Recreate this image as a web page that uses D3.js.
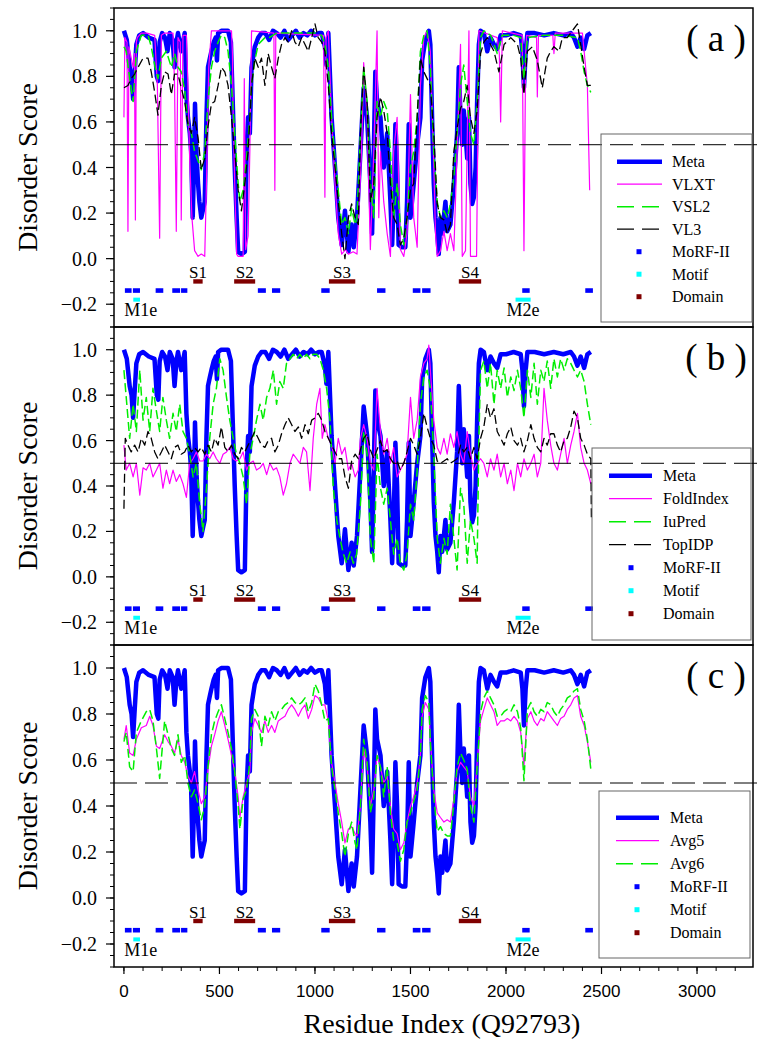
<!DOCTYPE html>
<html><head><meta charset="utf-8">
<script src="https://cdn.jsdelivr.net/npm/d3@7"></script>
<style>body{margin:0;background:#fff}</style>
</head><body><svg id="c" width="762" height="1050"></svg>
<script>
// ---------------- DATA ----------------
const xTicks = [0, 500, 1000, 1500, 2000, 2500, 3000];
const yTicks = [-0.2, 0, 0.2, 0.4, 0.6, 0.8, 1.0];
const threshold = 0.5;

const meta = [[0,1.0],[15,0.96],[30,0.84],[40,0.8],[48,0.7],[55,0.8],[65,0.94],[80,0.98],[100,0.99],[130,0.97],[160,0.96],[172,0.8],[180,0.78],[187,0.95],[200,0.99],[215,0.97],[228,0.91],[240,0.99],[255,0.96],[265,0.84],[275,0.95],[283,0.99],[300,0.91],[318,0.99],[327,0.72],[335,0.62],[345,0.55],[352,0.47],[360,0.18],[366,0.38],[372,0.68],[380,0.45],[388,0.33],[395,0.25],[405,0.18],[415,0.22],[423,0.25],[432,0.62],[440,0.84],[450,0.88],[458,0.91],[470,0.95],[480,0.97],[487,0.87],[493,0.99],[510,1.0],[545,1.0],[560,0.95],[572,0.62],[580,0.4],[590,0.18],[598,0.03],[615,0.02],[633,0.03],[642,0.47],[650,0.62],[659,0.55],[668,0.84],[685,0.93],[703,0.97],[720,0.99],[740,0.99],[760,0.96],[780,1.0],[800,0.99],[820,0.97],[840,1.0],[860,0.96],[880,0.98],[900,1.0],[920,0.97],[940,0.99],[960,0.98],[980,1.0],[1000,0.98],[1020,0.99],[1035,0.99],[1052,0.93],[1060,0.85],[1070,0.99],[1087,0.62],[1105,0.4],[1122,0.18],[1140,0.06],[1157,0.21],[1175,0.03],[1192,0.15],[1203,0.05],[1220,0.18],[1238,0.47],[1255,0.75],[1273,0.62],[1290,0.33],[1299,0.11],[1308,0.47],[1316,0.82],[1325,0.69],[1343,0.62],[1360,0.4],[1378,0.55],[1395,0.25],[1404,0.06],[1412,0.25],[1421,0.59],[1430,0.4],[1438,0.06],[1456,0.05],[1473,0.05],[1482,0.25],[1491,0.59],[1500,0.18],[1517,0.33],[1535,0.5],[1552,0.62],[1561,0.87],[1578,0.96],[1596,1.0],[1604,0.94],[1613,0.62],[1622,0.33],[1631,0.18],[1640,0.11],[1648,0.02],[1657,0.18],[1666,0.11],[1683,0.25],[1692,0.12],[1709,0.15],[1727,0.33],[1744,0.55],[1753,0.84],[1762,0.62],[1771,0.5],[1779,0.65],[1788,0.55],[1797,0.44],[1806,0.62],[1814,0.33],[1823,0.24],[1832,0.27],[1841,0.4],[1849,0.69],[1858,0.94],[1867,1.0],[1884,0.99],[1902,0.91],[1919,0.97],[1937,0.94],[1954,0.92],[1972,0.98],[2000,0.98],[2040,0.99],[2077,0.98],[2086,0.91],[2094,0.75],[2103,0.91],[2112,0.99],[2150,0.99],[2200,0.98],[2250,0.99],[2300,0.98],[2339,0.99],[2356,0.97],[2374,0.93],[2391,0.97],[2409,0.92],[2426,0.98],[2444,0.99]];

const vlxt = [[0,0.62],[5,0.97],[16,0.95],[21,0.12],[26,0.93],[31,0.91],[48,0.84],[55,0.9],[60,0.17],[65,0.95],[70,0.97],[90,0.99],[120,0.99],[161,0.98],[175,0.76],[187,0.09],[196,0.98],[213,0.99],[257,0.99],[265,0.76],[274,0.12],[283,0.97],[295,0.95],[300,0.17],[309,0.98],[327,0.98],[335,0.76],[344,0.44],[356,0.18],[370,0.035],[388,0.01],[405,0.02],[423,0.01],[432,0.33],[444,0.84],[458,1.0],[563,1.0],[568,0.9],[572,0.62],[580,0.33],[590,0.02],[598,0.01],[624,0.01],[630,0.79],[637,0.04],[650,0.1],[659,0.47],[668,1.0],[785,0.99],[790,0.3],[795,0.99],[1045,0.98],[1052,0.27],[1058,0.97],[1070,1.0],[1087,0.62],[1105,0.33],[1122,0.11],[1140,0.02],[1160,0.04],[1175,0.02],[1200,0.03],[1220,0.02],[1245,0.5],[1255,0.86],[1273,0.62],[1290,0.04],[1308,0.47],[1325,1.0],[1334,0.18],[1343,0.47],[1360,0.25],[1378,0.11],[1395,0.01],[1412,0.47],[1430,0.62],[1447,0.04],[1465,0.01],[1482,0.11],[1500,0.72],[1517,0.18],[1535,0.05],[1552,0.76],[1570,0.97],[1587,1.0],[1604,0.91],[1622,0.41],[1631,0.11],[1640,0.01],[1657,0.035],[1675,0.12],[1692,0.035],[1709,0.11],[1727,0.035],[1744,0.47],[1762,0.94],[1771,0.01],[1788,0.035],[1806,1.0],[1814,0.01],[1846,0.01],[1858,1.0],[1954,0.97],[1965,0.9],[1972,0.6],[1981,1.0],[2085,0.98],[2094,0.035],[2103,0.9],[2108,0.98],[2160,0.97],[2164,0.71],[2170,0.98],[2245,0.98],[2251,0.9],[2258,0.99],[2400,0.99],[2409,0.91],[2426,0.76],[2438,0.3]];

const vsl2 = [[0,0.93],[12,0.91],[30,0.79],[48,0.69],[65,0.91],[91,0.98],[126,0.98],[143,0.93],[161,0.85],[178,0.79],[196,0.88],[222,0.91],[248,0.84],[265,0.9],[283,0.84],[300,0.82],[318,0.74],[335,0.59],[353,0.55],[370,0.47],[388,0.43],[405,0.39],[423,0.47],[440,0.69],[458,0.84],[475,0.91],[493,0.95],[510,0.98],[528,0.97],[545,0.91],[563,0.76],[580,0.55],[598,0.33],[607,0.25],[624,0.3],[642,0.44],[659,0.62],[668,0.76],[685,0.87],[703,0.94],[738,0.97],[760,0.97],[800,0.99],[900,0.99],[1000,0.99],[1035,0.98],[1052,0.94],[1070,0.84],[1087,0.62],[1105,0.44],[1122,0.3],[1140,0.15],[1157,0.18],[1175,0.11],[1192,0.22],[1210,0.15],[1220,0.18],[1238,0.55],[1255,0.84],[1273,0.69],[1290,0.33],[1308,0.18],[1325,0.69],[1343,0.62],[1360,0.69],[1378,0.65],[1395,0.47],[1412,0.18],[1430,0.33],[1447,0.15],[1465,0.06],[1482,0.18],[1500,0.4],[1517,0.47],[1535,0.62],[1552,0.91],[1570,0.98],[1587,1.0],[1604,0.84],[1622,0.47],[1640,0.25],[1657,0.18],[1675,0.21],[1692,0.18],[1709,0.24],[1727,0.36],[1744,0.55],[1762,0.76],[1779,0.85],[1797,0.69],[1814,0.55],[1832,0.5],[1849,0.69],[1867,0.97],[1884,1.0],[1920,0.98],[1954,0.9],[1980,0.98],[2040,0.98],[2077,0.97],[2094,0.79],[2112,0.97],[2200,0.98],[2300,0.98],[2374,0.97],[2391,0.91],[2409,0.82],[2426,0.76],[2444,0.73]];

const vl3 = [[0,0.75],[21,0.76],[38,0.79],[56,0.81],[74,0.84],[100,0.88],[126,0.88],[143,0.82],[161,0.73],[178,0.63],[196,0.76],[213,0.82],[231,0.81],[248,0.72],[265,0.81],[283,0.81],[300,0.75],[318,0.69],[335,0.59],[353,0.55],[370,0.62],[388,0.53],[405,0.39],[423,0.44],[440,0.58],[458,0.68],[475,0.69],[493,0.76],[510,0.84],[528,0.82],[545,0.76],[563,0.62],[580,0.47],[598,0.3],[615,0.21],[633,0.33],[650,0.47],[668,0.76],[685,0.88],[703,0.84],[720,0.88],[738,0.76],[755,0.9],[773,0.84],[790,0.79],[808,0.88],[825,0.94],[843,0.97],[860,0.95],[878,1.0],[895,0.95],[913,0.93],[930,0.97],[948,0.94],[965,0.91],[983,0.97],[1000,1.03],[1017,0.97],[1035,0.95],[1052,0.91],[1070,0.76],[1087,0.55],[1105,0.4],[1122,0.25],[1140,0.11],[1157,0.0],[1175,0.18],[1192,0.24],[1210,0.18],[1227,0.15],[1238,0.55],[1255,0.84],[1273,0.68],[1290,0.25],[1308,0.33],[1325,0.62],[1343,0.71],[1360,0.65],[1378,0.55],[1395,0.33],[1412,0.18],[1430,0.15],[1447,0.06],[1465,0.09],[1482,0.18],[1500,0.3],[1517,0.33],[1535,0.62],[1552,0.88],[1570,0.82],[1587,0.79],[1604,0.76],[1622,0.55],[1640,0.24],[1657,0.18],[1675,0.17],[1692,0.11],[1709,0.15],[1727,0.47],[1744,0.57],[1762,0.66],[1779,0.69],[1797,0.76],[1814,0.62],[1832,0.55],[1849,0.65],[1867,0.9],[1884,0.95],[1902,0.97],[1919,0.94],[1937,0.91],[1963,0.82],[1990,0.94],[2025,0.97],[2060,0.94],[2077,0.88],[2094,0.72],[2112,0.91],[2138,0.93],[2164,0.87],[2190,0.75],[2216,0.88],[2234,0.91],[2251,0.93],[2278,0.91],[2295,0.97],[2321,0.97],[2356,1.01],[2374,1.03],[2391,0.94],[2409,0.84],[2426,0.76],[2444,0.76]];

const foldIndex = [[0,0.58],[12,0.47],[30,0.5],[48,0.44],[65,0.5],[83,0.36],[100,0.48],[117,0.47],[135,0.5],[152,0.44],[170,0.47],[187,0.5],[204,0.39],[222,0.47],[239,0.41],[257,0.47],[274,0.42],[292,0.45],[309,0.41],[327,0.35],[344,0.5],[362,0.52],[379,0.55],[397,0.51],[414,0.51],[432,0.54],[449,0.52],[467,0.55],[484,0.52],[502,0.5],[519,0.54],[537,0.55],[554,0.57],[572,0.52],[589,0.51],[607,0.52],[624,0.55],[642,0.47],[659,0.5],[677,0.51],[694,0.47],[712,0.48],[729,0.5],[747,0.45],[764,0.5],[782,0.47],[799,0.48],[816,0.44],[834,0.36],[851,0.41],[869,0.5],[886,0.54],[904,0.52],[921,0.5],[939,0.57],[956,0.55],[974,0.38],[991,0.61],[1009,0.76],[1026,0.83],[1038,0.61],[1052,0.67],[1070,0.61],[1087,0.58],[1105,0.5],[1122,0.61],[1140,0.54],[1157,0.57],[1175,0.47],[1192,0.5],[1210,0.44],[1227,0.47],[1238,0.61],[1255,0.67],[1273,0.61],[1290,0.5],[1308,0.47],[1325,0.83],[1343,0.64],[1360,0.54],[1378,0.61],[1395,0.5],[1412,0.57],[1430,0.44],[1447,0.47],[1465,0.5],[1482,0.54],[1500,0.79],[1517,0.61],[1535,0.69],[1552,0.88],[1570,0.94],[1587,0.96],[1596,1.02],[1604,0.91],[1622,0.69],[1640,0.57],[1657,0.54],[1675,0.61],[1692,0.54],[1709,0.63],[1727,0.57],[1744,0.64],[1762,0.54],[1779,0.5],[1797,0.64],[1814,0.54],[1832,0.47],[1849,0.5],[1867,0.52],[1884,0.5],[1902,0.44],[1919,0.52],[1937,0.47],[1954,0.54],[1972,0.44],[1990,0.5],[2007,0.41],[2025,0.47],[2042,0.38],[2060,0.5],[2077,0.44],[2094,0.52],[2112,0.47],[2130,0.5],[2147,0.54],[2164,0.44],[2182,0.5],[2199,0.83],[2216,0.69],[2234,0.58],[2251,0.5],[2269,0.47],[2286,0.54],[2304,0.61],[2321,0.5],[2339,0.58],[2356,0.64],[2374,0.72],[2391,0.57],[2409,0.5],[2426,0.47],[2444,0.41]];

const iuPred = [[0,0.91],[12,0.79],[30,0.61],[48,0.76],[65,0.64],[83,0.91],[100,0.69],[117,0.79],[135,0.64],[152,0.83],[170,0.73],[187,0.64],[204,0.79],[222,0.69],[239,0.61],[257,0.72],[274,0.64],[292,0.76],[309,0.64],[327,0.61],[344,0.54],[362,0.44],[379,0.5],[397,0.32],[414,0.2],[432,0.39],[449,0.61],[467,0.76],[484,0.83],[502,0.96],[519,0.91],[537,0.79],[554,0.69],[572,0.61],[589,0.54],[607,0.5],[624,0.44],[642,0.32],[659,0.54],[677,0.61],[694,0.69],[712,0.76],[729,0.69],[747,0.79],[764,0.83],[782,0.91],[799,0.76],[816,0.86],[834,0.83],[851,0.94],[869,0.96],[886,0.98],[904,0.96],[921,0.98],[939,0.96],[956,0.98],[974,0.96],[991,0.98],[1009,0.98],[1026,0.96],[1044,0.91],[1061,0.83],[1079,0.69],[1096,0.39],[1114,0.25],[1131,0.17],[1149,0.1],[1166,0.06],[1184,0.11],[1201,0.06],[1218,0.1],[1238,0.32],[1255,0.64],[1273,0.54],[1290,0.17],[1308,0.06],[1325,0.54],[1343,0.39],[1360,0.32],[1378,0.39],[1395,0.25],[1412,0.1],[1430,0.17],[1447,0.06],[1465,0.03],[1482,0.1],[1500,0.32],[1517,0.25],[1535,0.47],[1552,0.76],[1570,0.88],[1587,0.91],[1604,0.83],[1622,0.54],[1640,0.17],[1657,0.06],[1675,0.17],[1692,0.1],[1709,0.32],[1727,0.17],[1744,0.03],[1762,0.39],[1779,0.32],[1797,0.06],[1814,0.25],[1832,0.17],[1849,0.06],[1858,0.61],[1867,0.91],[1884,0.95],[1902,0.83],[1919,0.94],[1937,0.76],[1954,0.91],[1972,0.83],[1990,0.92],[2007,0.79],[2025,0.88],[2042,0.82],[2060,0.91],[2077,0.83],[2094,0.7],[2112,0.91],[2130,0.79],[2147,0.94],[2164,0.76],[2182,0.91],[2199,0.86],[2216,0.95],[2234,0.83],[2251,0.96],[2269,0.88],[2286,0.96],[2304,0.91],[2321,0.96],[2339,0.94],[2356,0.91],[2374,0.88],[2391,0.91],[2409,0.86],[2426,0.76],[2444,0.67]];

const topIDP = [[0,0.3],[7,0.61],[21,0.58],[38,0.55],[56,0.58],[74,0.55],[91,0.61],[109,0.58],[126,0.64],[143,0.61],[161,0.55],[178,0.52],[196,0.55],[213,0.58],[231,0.55],[248,0.52],[265,0.57],[283,0.58],[300,0.54],[318,0.55],[335,0.58],[353,0.55],[370,0.57],[388,0.55],[405,0.57],[423,0.54],[440,0.58],[458,0.55],[475,0.61],[493,0.58],[510,0.66],[528,0.57],[545,0.55],[563,0.58],[580,0.54],[598,0.52],[615,0.57],[633,0.55],[650,0.58],[668,0.61],[685,0.64],[703,0.61],[720,0.58],[738,0.57],[755,0.6],[773,0.61],[790,0.55],[808,0.58],[825,0.63],[843,0.67],[860,0.7],[878,0.67],[895,0.64],[913,0.66],[930,0.61],[948,0.67],[965,0.63],[983,0.69],[1000,0.7],[1017,0.72],[1035,0.69],[1052,0.64],[1070,0.61],[1087,0.58],[1105,0.55],[1122,0.52],[1140,0.52],[1157,0.44],[1175,0.39],[1192,0.51],[1210,0.54],[1227,0.52],[1238,0.56],[1255,0.61],[1273,0.63],[1290,0.56],[1308,0.52],[1325,0.56],[1343,0.6],[1360,0.55],[1378,0.56],[1395,0.52],[1412,0.5],[1430,0.51],[1447,0.47],[1465,0.5],[1482,0.55],[1500,0.61],[1517,0.58],[1535,0.54],[1552,0.61],[1570,0.72],[1587,0.66],[1604,0.61],[1622,0.58],[1640,0.51],[1657,0.5],[1675,0.51],[1692,0.52],[1709,0.5],[1727,0.51],[1744,0.52],[1762,0.58],[1779,0.55],[1797,0.57],[1814,0.52],[1832,0.57],[1849,0.52],[1867,0.61],[1884,0.66],[1902,0.76],[1919,0.7],[1937,0.74],[1954,0.64],[1972,0.61],[1990,0.58],[2007,0.63],[2025,0.66],[2042,0.6],[2060,0.58],[2077,0.61],[2094,0.55],[2112,0.6],[2130,0.67],[2147,0.61],[2164,0.57],[2182,0.55],[2199,0.61],[2216,0.58],[2234,0.63],[2251,0.63],[2269,0.58],[2286,0.55],[2304,0.6],[2321,0.61],[2339,0.66],[2356,0.73],[2374,0.7],[2391,0.61],[2409,0.58],[2426,0.54],[2444,0.52],[2447,0.26]];

const avg5 = [[0,0.69],[12,0.75],[30,0.63],[48,0.62],[65,0.69],[91,0.74],[117,0.75],[135,0.79],[152,0.75],[170,0.66],[187,0.65],[213,0.71],[231,0.68],[248,0.66],[265,0.63],[283,0.69],[300,0.62],[318,0.59],[335,0.53],[353,0.5],[370,0.55],[388,0.47],[405,0.41],[423,0.44],[440,0.56],[458,0.66],[475,0.71],[493,0.77],[510,0.81],[528,0.75],[545,0.69],[563,0.62],[580,0.55],[598,0.44],[607,0.35],[624,0.44],[642,0.5],[659,0.55],[668,0.72],[685,0.78],[703,0.75],[720,0.72],[738,0.77],[755,0.72],[773,0.75],[790,0.72],[808,0.77],[825,0.78],[843,0.79],[860,0.82],[878,0.84],[895,0.82],[913,0.79],[930,0.82],[948,0.84],[965,0.78],[983,0.82],[1000,0.88],[1017,0.87],[1035,0.84],[1052,0.84],[1070,0.77],[1087,0.59],[1105,0.5],[1122,0.41],[1140,0.33],[1157,0.24],[1175,0.3],[1192,0.31],[1210,0.28],[1220,0.27],[1238,0.4],[1255,0.65],[1273,0.57],[1290,0.4],[1308,0.47],[1325,0.62],[1343,0.57],[1360,0.5],[1378,0.53],[1395,0.4],[1412,0.3],[1430,0.28],[1447,0.21],[1465,0.24],[1482,0.33],[1500,0.4],[1517,0.44],[1535,0.5],[1552,0.62],[1561,0.79],[1578,0.85],[1596,0.82],[1604,0.69],[1622,0.47],[1640,0.37],[1657,0.35],[1675,0.33],[1692,0.34],[1709,0.33],[1727,0.43],[1744,0.55],[1762,0.59],[1779,0.57],[1797,0.55],[1814,0.44],[1832,0.4],[1849,0.59],[1867,0.77],[1884,0.82],[1902,0.87],[1919,0.84],[1937,0.81],[1954,0.75],[1972,0.77],[1990,0.77],[2007,0.78],[2025,0.77],[2042,0.79],[2060,0.77],[2077,0.72],[2086,0.65],[2094,0.57],[2103,0.69],[2112,0.78],[2130,0.81],[2147,0.77],[2164,0.75],[2182,0.78],[2199,0.77],[2216,0.81],[2234,0.79],[2251,0.77],[2269,0.75],[2286,0.78],[2304,0.79],[2321,0.82],[2339,0.84],[2356,0.87],[2374,0.88],[2391,0.79],[2409,0.75],[2426,0.68],[2444,0.59]];

const avg6 = [[0,0.68],[12,0.72],[30,0.57],[48,0.55],[65,0.72],[91,0.77],[117,0.81],[135,0.82],[152,0.77],[170,0.65],[187,0.52],[213,0.77],[231,0.71],[248,0.65],[265,0.62],[283,0.71],[300,0.59],[318,0.62],[335,0.5],[353,0.44],[370,0.47],[388,0.41],[405,0.34],[423,0.4],[440,0.57],[458,0.71],[475,0.77],[493,0.81],[510,0.84],[528,0.78],[545,0.72],[563,0.65],[580,0.55],[598,0.4],[607,0.3],[624,0.43],[642,0.47],[659,0.59],[668,0.78],[685,0.82],[703,0.79],[720,0.66],[738,0.79],[755,0.75],[773,0.81],[790,0.77],[808,0.81],[825,0.82],[843,0.84],[860,0.85],[878,0.87],[895,0.85],[913,0.84],[930,0.85],[948,0.87],[965,0.81],[983,0.85],[1000,0.93],[1017,0.9],[1035,0.84],[1052,0.77],[1070,0.78],[1087,0.57],[1105,0.47],[1122,0.37],[1140,0.28],[1157,0.18],[1175,0.28],[1192,0.33],[1210,0.24],[1220,0.21],[1238,0.4],[1255,0.69],[1273,0.59],[1290,0.37],[1308,0.44],[1325,0.62],[1343,0.57],[1360,0.44],[1378,0.57],[1395,0.37],[1412,0.25],[1430,0.24],[1447,0.16],[1465,0.21],[1482,0.33],[1500,0.37],[1517,0.42],[1535,0.47],[1552,0.62],[1561,0.82],[1578,0.88],[1596,0.85],[1604,0.68],[1622,0.44],[1640,0.29],[1657,0.31],[1675,0.28],[1692,0.27],[1709,0.27],[1727,0.41],[1744,0.57],[1762,0.63],[1779,0.6],[1797,0.56],[1814,0.4],[1832,0.33],[1849,0.57],[1867,0.81],[1884,0.87],[1902,0.9],[1919,0.87],[1937,0.84],[1954,0.79],[1972,0.79],[1990,0.81],[2007,0.82],[2025,0.81],[2042,0.84],[2060,0.81],[2077,0.74],[2086,0.62],[2094,0.51],[2103,0.66],[2112,0.82],[2130,0.85],[2147,0.81],[2164,0.79],[2182,0.82],[2199,0.81],[2216,0.85],[2234,0.84],[2251,0.81],[2269,0.79],[2286,0.82],[2304,0.84],[2321,0.87],[2339,0.88],[2356,0.9],[2374,0.91],[2391,0.82],[2409,0.77],[2426,0.69],[2444,0.56]];

const morfs = [[5,40],[47,84],[166,206],[253,294],[299,332],[701,743],[775,818],[1033,1077],[1325,1369],[1512,1552],[1561,1605],[2085,2124],[2415,2455]];
const motifs = [{name:"M1e", start:49, end:84},{name:"M2e", start:2050, end:2129}];
const domains = [{name:"S1", start:363, end:412},{name:"S2", start:577, end:687},{name:"S3", start:1073, end:1211},{name:"S4", start:1753, end:1870}];
const markerLevels = {domain:-0.1, morf:-0.14, motif:-0.18};

// ---------------- STYLES ----------------
const styles = {
  meta:  {stroke:"#0000ff", width:4.5, dash:null, legendDash:null},
  mag:   {stroke:"#ff00ff", width:1.2, dash:null, legendDash:null},
  green: {stroke:"#00ee00", width:1.5, dash:"9,4", legendDash:"17,8"},
  black: {stroke:"#000000", width:1.3, dash:"9,4", legendDash:"17,8"}
};

const panels = [
  {top:8, bottom:327, label:"( a )",
   series:[["Meta",meta,"meta"],["VLXT",vlxt,"mag"],["VSL2",vsl2,"green"],["VL3",vl3,"black"]],
   legend:{x0:601,y0:134,x1:752,y1:322,row0:161.7,step:22.5,l0:617,l1:662,tx:672,mx:639}},
  {top:327, bottom:645, label:"( b )",
   series:[["Meta",meta,"meta"],["FoldIndex",foldIndex,"mag"],["IuPred",iuPred,"green"],["TopIDP",topIDP,"black"]],
   legend:{x0:592,y0:448,x1:751,y1:640,row0:475.7,step:23,l0:609,l1:652,tx:663,mx:631}},
  {top:645, bottom:967, label:"( c )",
   series:[["Meta",meta,"meta"],["Avg5",avg5,"mag"],["Avg6",avg6,"green"]],
   legend:{x0:599,y0:791,x1:750,y1:958,row0:817.7,step:23,l0:616,l1:659,tx:670,mx:637}}
];

// ---------------- DRAW ----------------
const svg = d3.select("#c");
const serif = "'Liberation Serif','Times New Roman',serif";
const sans = "'Liberation Sans',Arial,sans-serif";
const x = d3.scaleLinear().domain([-52, 3293]).range([114, 753]);
const L = 114, R = 753;

panels.forEach(p => {
  const y = d3.scaleLinear().domain([-0.3, 1.1]).range([p.bottom, p.top]);
  const g = svg.append("g");

  // y ticks
  const minor = d3.range(-0.3, 1.1001, 0.05).map(v => +v.toFixed(2));
  g.selectAll(".ym").data(minor).join("line")
    .attr("x1", L).attr("x2", L - 4).attr("y1", d => y(d)).attr("y2", d => y(d))
    .attr("stroke", "#000").attr("stroke-width", 1);
  g.selectAll(".yM").data(yTicks).join("line")
    .attr("x1", L).attr("x2", L - 8).attr("y1", d => y(d)).attr("y2", d => y(d))
    .attr("stroke", "#000").attr("stroke-width", 1.2);
  g.selectAll(".yl").data(yTicks).join("text")
    .attr("x", 97).attr("y", d => y(d)).attr("dy", "0.35em")
    .attr("text-anchor", "end").attr("font-family", serif).attr("font-size", 20)
    .text(d => d3.format(".1f")(d));

  // axis title
  g.append("text").attr("transform", `translate(37,${(p.top + p.bottom) / 2}) rotate(-90)`)
    .attr("text-anchor", "middle").attr("font-family", serif).attr("font-size", 28)
    .text("Disorder Score");

  // series lines
  const line = d3.line().x(d => x(d[0])).y(d => y(d[1]));
  p.series.forEach(([name, data, st]) => {
    const s = styles[st];
    g.append("path").datum(data).attr("d", line).attr("fill", "none")
      .attr("stroke", s.stroke).attr("stroke-width", s.width)
      .attr("stroke-linejoin", "round")
      .attr("stroke-dasharray", s.dash);
  });

  // domains
  g.selectAll(".dom").data(domains).join("rect")
    .attr("x", d => x(d.start)).attr("width", d => x(d.end) - x(d.start))
    .attr("y", y(markerLevels.domain) - 2.2).attr("height", 4.4).attr("fill", "#800000");
  g.selectAll(".doml").data(domains).join("text")
    .attr("x", d => x((d.start + d.end) / 2)).attr("y", y(markerLevels.domain) - 3.5)
    .attr("text-anchor", "middle").attr("font-family", serif).attr("font-size", 17)
    .text(d => d.name);
  // morfs
  g.selectAll(".morf").data(morfs).join("rect")
    .attr("x", d => x(d[0])).attr("width", d => x(d[1]) - x(d[0]))
    .attr("y", y(markerLevels.morf) - 2.3).attr("height", 4.6).attr("fill", "#0000ff");
  // motifs
  g.selectAll(".mot").data(motifs).join("rect")
    .attr("x", d => x(d.start)).attr("width", d => x(d.end) - x(d.start))
    .attr("y", y(markerLevels.motif) - 2).attr("height", 4).attr("fill", "#00ffff");
  g.selectAll(".motl").data(motifs).join("text")
    .attr("x", d => x((d.start + d.end) / 2) + (d.start < 100 ? 4 : 0)).attr("y", y(-0.25))
    .attr("text-anchor", "middle").attr("font-family", serif).attr("font-size", 18)
    .text(d => d.name);

  // threshold
  g.append("line").attr("x1", L).attr("x2", 757).attr("y1", y(threshold)).attr("y2", y(threshold))
    .attr("stroke", "#000").attr("stroke-width", 1).attr("stroke-dasharray", "23,8");

  // frame
  g.append("rect").attr("x", L).attr("y", p.top).attr("width", R - L).attr("height", p.bottom - p.top)
    .attr("fill", "none").attr("stroke", "#000").attr("stroke-width", 1.5);

  // panel label
  g.append("text").attr("x", 716).attr("y", p.top + 43).attr("text-anchor", "middle")
    .attr("font-family", serif).attr("font-size", 37).text(p.label);

  // legend
  const lg = p.legend;
  g.append("rect").attr("x", lg.x0).attr("y", lg.y0).attr("width", lg.x1 - lg.x0).attr("height", lg.y1 - lg.y0)
    .attr("fill", "none").attr("stroke", "#666").attr("stroke-width", 1);
  const entries = p.series.map(s => ({name: s[0], kind: "line", st: s[2]}))
    .concat([{name:"MoRF-II", kind:"sq", color:"#0000ff"},{name:"Motif", kind:"sq", color:"#00ffff"},{name:"Domain", kind:"sq", color:"#800000"}]);
  entries.forEach((e, i) => {
    const yy = lg.row0 + i * lg.step;
    if (e.kind === "line") {
      const s = styles[e.st];
      g.append("line").attr("x1", lg.l0).attr("x2", lg.l1).attr("y1", yy).attr("y2", yy)
        .attr("stroke", s.stroke).attr("stroke-width", s.width).attr("stroke-dasharray", s.legendDash);
    } else {
      g.append("rect").attr("x", lg.mx - 2.5).attr("y", yy - 2.5).attr("width", 5).attr("height", 5).attr("fill", e.color);
    }
    g.append("text").attr("x", lg.tx).attr("y", yy).attr("dy", "0.35em")
      .attr("font-family", serif).attr("font-size", 16).text(e.name);
  });

  // x axis on bottom panel
  if (p.bottom === 967) {
    const xm = d3.range(0, 3201, 100);
    g.selectAll(".xm").data(xm).join("line")
      .attr("x1", d => x(d)).attr("x2", d => x(d)).attr("y1", p.bottom).attr("y2", p.bottom + 4)
      .attr("stroke", "#000").attr("stroke-width", 1);
    g.selectAll(".xM").data(xTicks).join("line")
      .attr("x1", d => x(d)).attr("x2", d => x(d)).attr("y1", p.bottom).attr("y2", p.bottom + 7)
      .attr("stroke", "#000").attr("stroke-width", 1.2);
    g.selectAll(".xl").data(xTicks).join("text")
      .attr("x", d => x(d)).attr("y", 997).attr("text-anchor", "middle")
      .attr("font-family", sans).attr("font-size", 17).text(d => d);
    g.append("text").attr("x", 442).attr("y", 1033).attr("text-anchor", "middle")
      .attr("font-family", serif).attr("font-size", 28).text("Residue Index (Q92793)");
  }
});
</script>
</body></html>
